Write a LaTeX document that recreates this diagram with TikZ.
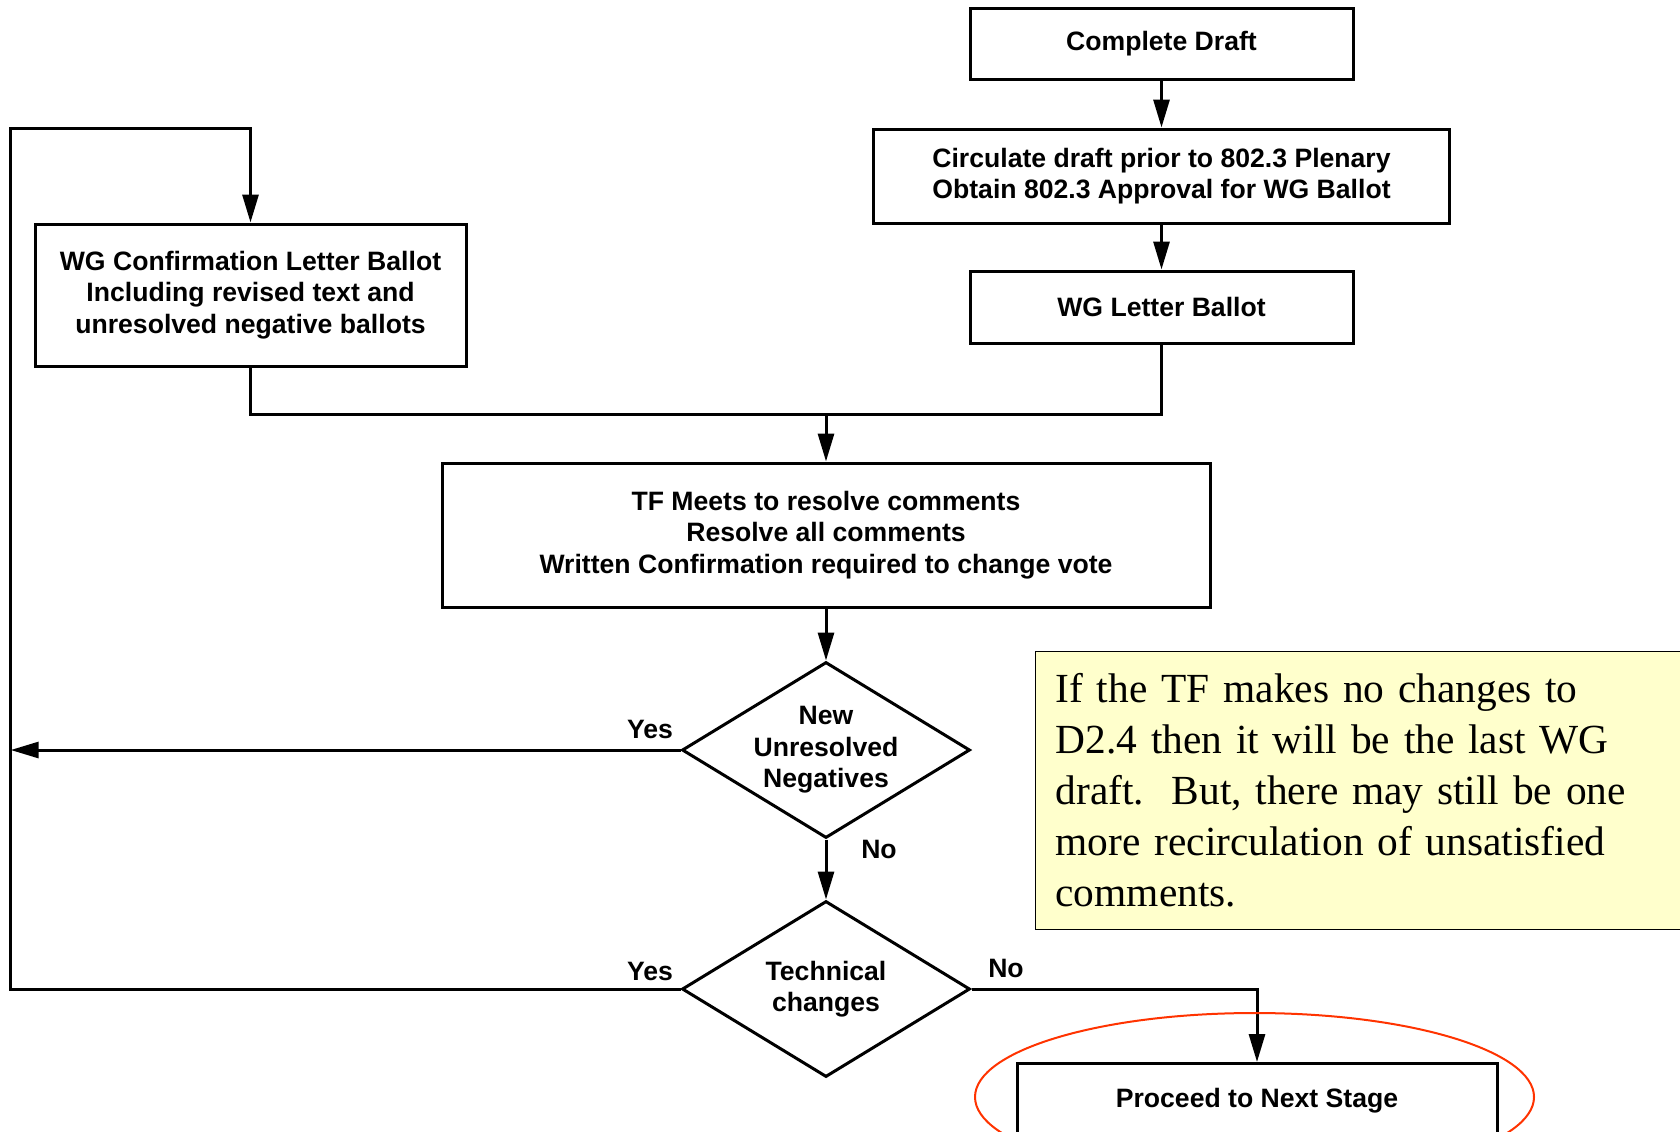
\documentclass[tikz,border=0pt]{standalone}
\usepackage{fontspec}
\setmainfont{Liberation Serif}
\setsansfont{Liberation Sans}
\usetikzlibrary{positioning,shapes.geometric,arrows.meta}
\definecolor{noteyellow}{RGB}{255,255,204}
\definecolor{ringred}{RGB}{255,51,0}

\begin{document}
\begin{tikzpicture}[x=0.5pt,y=-0.5pt,line width=1.5pt,
                    >={Triangle[length=14pt,width=8pt]},
                    stage box/.style={rectangle,draw,inner sep=0pt,align=center,
                      font=\sffamily\bfseries\fontsize{13.3}{15.8}\selectfont},
                    decision/.style={diamond,draw,aspect=1.64,inner sep=0pt,
                      minimum width=144pt,minimum height=88pt,align=center,
                      font=\sffamily\bfseries\fontsize{13.3}{15.8}\selectfont},
                    answer/.style={font=\sffamily\bfseries\fontsize{13.3}{15.8}\selectfont},
                    note box/.style={rectangle,draw,line width=0.6pt,fill=noteyellow,
                      anchor=north west,inner xsep=10pt,text width=312.5pt,
                      minimum height=139pt,align=left,
                      font=\rmfamily\fontsize{20.7}{25.5}\selectfont}]

  \useasboundingbox (0,0) rectangle (1680,1131);
  \clip (0,0) rectangle (1680,1131);

  \node[stage box,minimum width=191.5pt,minimum height=35.5pt] (draft) at (1161.5,44) {Complete Draft};
  \node[stage box,minimum width=288pt,minimum height=47pt] (circulate) at (1161.5,176)
    {Circulate draft prior to 802.3 Plenary\\Obtain 802.3 Approval for WG Ballot};
  \node[stage box,minimum width=191.5pt,minimum height=36pt] (letter) at (1161.5,307) {WG Letter Ballot};
  \node[stage box,minimum width=215.5pt,minimum height=71pt] (confirm) at (250.5,295)
    {WG Confirmation Letter Ballot\\Including revised text and\\unresolved negative ballots};
  \node[stage box,minimum width=384pt,minimum height=72pt] (meets) at (826,535)
    {TF Meets to resolve comments\\Resolve all comments\\Written Confirmation required to change vote};
  \node[decision] (unresolved) at (826,750) {New\\Unresolved\\Negatives};
  \node[decision] (technical) at (826,989) {Technical\\changes};
  \node[stage box,minimum width=240pt,minimum height=37pt,anchor=north] (proceed) at (1257,1062)
    {Proceed to Next Stage};

  \node[note box] (note) at (1035,651)
    {If the TF makes no changes to\\D2.4 then it will be the last WG\\draft.\ \ But, there may still be one\\more recirculation of unsatisfied\\comments.};

  \node[answer] (yesnew) at (650,729) {Yes};
  \node[answer] (yestech) at (650,971) {Yes};
  \node[answer] (nonew) at (879,849) {No};
  \node[answer] (notech) at (1006,968) {No};

  \coordinate (merge) at (826,414.6);
  \coordinate (looptop) at (10.7,128.6);
  \coordinate (loopfoot) at (10.7,989);
  \coordinate (yesend) at (10.7,750);

  \draw[->] (draft) -- (circulate);
  \draw[->] (circulate) -- (letter);
  \draw (confirm.south) |- (merge) -| (letter.south);
  \draw[->] (merge) -- (meets);
  \draw[->] (meets) -- (unresolved);
  \draw[->] (unresolved) -- (technical);
  \draw[->] (unresolved.west) -- (yesend);
  \draw[->] (technical.west) -- (loopfoot) -- (looptop) -| (confirm.north);
  \draw[->] (technical.east) -| (proceed.north);

  % ring round the last stage
  \draw[ringred,line width=1pt] (1254.5,1097) ellipse [x radius=139.75pt,y radius=42pt];
\end{tikzpicture}
\end{document}
